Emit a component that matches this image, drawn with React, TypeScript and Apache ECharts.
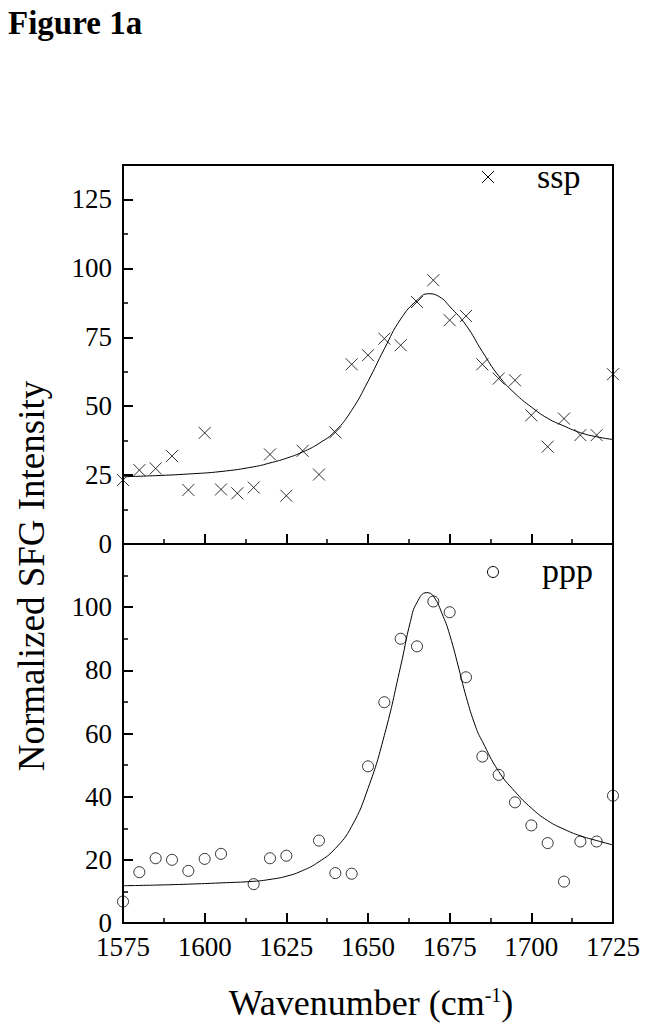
import React, { useEffect, useRef } from "react";
import * as echarts from "echarts";

// Wavenumber ticks (cm^-1)
const xTickValues = [1575, 1600, 1625, 1650, 1675, 1700, 1725];

// ssp measured points
const sspX = [1575, 1580, 1585, 1590, 1595, 1600, 1605, 1610, 1615, 1620, 1625, 1630, 1635, 1640, 1645, 1650, 1655, 1660, 1665, 1670, 1675, 1680, 1685, 1690, 1695, 1700, 1705, 1710, 1715, 1720, 1725];
const sspY = [23.2, 26.8, 27.4, 31.9, 19.6, 40.3, 19.8, 18.4, 20.5, 32.5, 17.5, 33.8, 25.2, 40.5, 65.2, 68.5, 74.5, 72.1, 87.8, 95.7, 81.2, 82.7, 65.2, 60.0, 59.4, 46.7, 35.3, 45.5, 39.5, 39.5, 61.6];

// ssp fitted curve
const sspFitX = [1575, 1585, 1595, 1605, 1615, 1620, 1625, 1630, 1635, 1640, 1645, 1650, 1655, 1660, 1665, 1668.6, 1672, 1675, 1680, 1685, 1690, 1695, 1700, 1705, 1710, 1715, 1720, 1725];
const sspFitY = [24.4, 24.8, 25.4, 26.3, 28.0, 29.4, 31.1, 33.4, 36.5, 41.0, 48.5, 59.0, 70.8, 81.6, 88.4, 90.8, 89.6, 86.2, 79.4, 69.8, 61.0, 54.6, 49.7, 45.6, 42.8, 40.4, 38.9, 37.9];

// ppp measured points
const pppX = [1575, 1580, 1585, 1590, 1595, 1600, 1605, 1615, 1620, 1625, 1635, 1640, 1645, 1650, 1655, 1660, 1665, 1670, 1675, 1680, 1685, 1690, 1695, 1700, 1705, 1710, 1715, 1720, 1725];
const pppY = [6.8, 16.1, 20.5, 20.0, 16.5, 20.3, 21.9, 12.3, 20.5, 21.3, 26.1, 15.8, 15.6, 49.6, 69.9, 90.0, 87.6, 101.8, 98.4, 77.8, 52.7, 46.9, 38.2, 30.9, 25.3, 13.1, 25.8, 25.8, 40.3];

// ppp fitted curve
const pppFitX = [1575, 1585, 1595, 1605, 1615, 1620, 1625, 1630, 1635, 1640, 1645, 1650, 1655, 1660, 1663, 1665, 1668, 1670, 1673, 1675, 1678, 1680, 1683, 1685, 1690, 1695, 1700, 1705, 1710, 1715, 1720, 1725];
const pppFitY = [11.8, 12.0, 12.3, 12.7, 13.2, 13.8, 14.8, 16.6, 19.4, 23.6, 30.6, 42.6, 59.4, 81.3, 95.5, 101.5, 104.6, 103.5, 97.1, 91.3, 79.8, 71.8, 62.0, 57.5, 48.0, 41.6, 36.4, 32.4, 29.7, 27.6, 26.1, 24.7];

const SERIF = "Liberation Serif";
const CROSS = "path://M0,0L10,10M10,0L0,10";

const zip = (xs: number[], ys: number[]) => xs.map((x, i) => [x, ys[i]]);

export default function App() {
  const ref = useRef<HTMLDivElement>(null);

  useEffect(() => {
    if (!ref.current) return;
    const chart = echarts.init(ref.current, undefined, { renderer: "svg" });

    const axisLine = { show: true, onZero: false, lineStyle: { color: "#000", width: 2 } };
    const axisTick = { show: true, inside: true, length: 10, lineStyle: { color: "#000", width: 2 } };
    const minorTick = { show: true, splitNumber: 2, length: 5, lineStyle: { color: "#000", width: 1.5 } };
    const plain = (v: number) => String(v);
    const tickFont = { color: "#000", fontFamily: SERIF, fontSize: 27, lineHeight: 20 };

    chart.setOption({
      animation: false,
      backgroundColor: "#fff",
      textStyle: { fontFamily: SERIF, color: "#000" },
      grid: [
        { left: 123, top: 165, width: 490, height: 379, show: true, borderColor: "#000", borderWidth: 2, containLabel: false },
        { left: 123, top: 544, width: 490, height: 379, show: true, borderColor: "#000", borderWidth: 2, containLabel: false },
      ],
      xAxis: [
        {
          type: "value", gridIndex: 0, min: xTickValues[0], max: xTickValues[xTickValues.length - 1], interval: 25,
          axisLine, axisTick, minorTick, splitLine: { show: false },
          axisLabel: { show: false },
        },
        {
          type: "value", gridIndex: 1, min: xTickValues[0], max: xTickValues[xTickValues.length - 1], interval: 25,
          axisLine, axisTick, minorTick, splitLine: { show: false },
          axisLabel: { show: true, ...tickFont, margin: 13.5, formatter: plain },
        },
      ],
      yAxis: [
        {
          type: "value", gridIndex: 0, min: 0, max: 137.5, interval: 25,
          axisLine, axisTick, minorTick, splitLine: { show: false },
          axisLabel: { show: true, ...tickFont, margin: 11, showMaxLabel: false, formatter: plain },
        },
        {
          type: "value", gridIndex: 1, min: 0, max: 120, interval: 20,
          axisLine, axisTick, minorTick, splitLine: { show: false },
          axisLabel: { show: true, ...tickFont, margin: 11, showMaxLabel: false, formatter: plain },
        },
      ],
      series: [
        {
          name: "ssp fit", type: "line", xAxisIndex: 0, yAxisIndex: 0,
          data: zip(sspFitX, sspFitY), smooth: 0.5, showSymbol: false, symbol: "none",
          lineStyle: { color: "#000", width: 1 }, z: 2,
        },
        {
          name: "ssp", type: "scatter", xAxisIndex: 0, yAxisIndex: 0,
          data: zip(sspX, sspY), symbol: CROSS, symbolSize: 12, clip: true,
          itemStyle: { color: "transparent", borderColor: "#000", borderWidth: 1 }, z: 3,
        },
        {
          name: "ppp fit", type: "line", xAxisIndex: 1, yAxisIndex: 1,
          data: zip(pppFitX, pppFitY), smooth: 0.5, showSymbol: false, symbol: "none",
          lineStyle: { color: "#000", width: 1 }, z: 2,
        },
        {
          name: "ppp", type: "scatter", xAxisIndex: 1, yAxisIndex: 1,
          data: zip(pppX, pppY), symbol: "circle", symbolSize: 11, clip: true,
          itemStyle: { color: "transparent", borderColor: "#000", borderWidth: 1 }, z: 3,
        },
      ],
      graphic: [
        {
          type: "text", left: 8, top: 6,
          style: { text: "Figure 1a", fontFamily: SERIF, fontWeight: "bold", fontSize: 33, fill: "#000" },
        },
        {
          type: "text", x: 537, y: 176.5,
          style: { text: "ssp", fontFamily: SERIF, fontSize: 34, fill: "#000", align: "left", verticalAlign: "middle" },
        },
        {
          type: "text", x: 542, y: 570.5,
          style: { text: "ppp", fontFamily: SERIF, fontSize: 34, fill: "#000", align: "left", verticalAlign: "middle" },
        },
        { type: "line", shape: { x1: 482, y1: 171, x2: 494, y2: 183 }, style: { stroke: "#000", lineWidth: 1 } },
        { type: "line", shape: { x1: 494, y1: 171, x2: 482, y2: 183 }, style: { stroke: "#000", lineWidth: 1 } },
        { type: "circle", shape: { cx: 493, cy: 572, r: 5.5 }, style: { fill: "none", stroke: "#000", lineWidth: 1 } },
        {
          type: "text", x: 31, y: 576, rotation: Math.PI / 2,
          style: { text: "Normalized SFG Intensity", fontFamily: SERIF, fontSize: 37, fill: "#000", align: "center", verticalAlign: "middle" },
        },
        {
          type: "text", x: 371, y: 1003,
          style: {
            text: "{a|Wavenumber (cm}{s|-1}{a|)}",
            align: "center", verticalAlign: "middle", fill: "#000",
            rich: {
              a: { fontFamily: SERIF, fontSize: 36, fill: "#000" },
              s: { fontFamily: SERIF, fontSize: 20, fill: "#000", verticalAlign: "top" },
            },
          },
        },
      ],
    });

    return () => chart.dispose();
  }, []);

  return (
    <div
      ref={ref}
      style={{ position: "fixed", left: 0, top: 0, width: 649, height: 1031, background: "#fff" }}
    />
  );
}
